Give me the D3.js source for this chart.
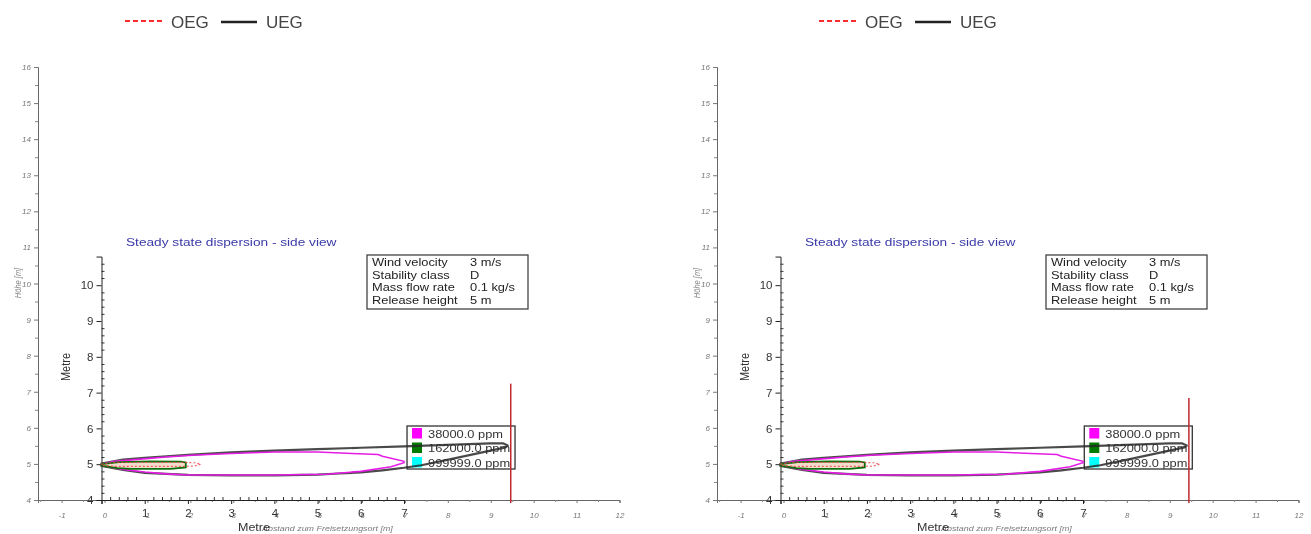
<!DOCTYPE html>
<html>
<head>
<meta charset="utf-8">
<script src="https://cdn.jsdelivr.net/npm/d3@7"></script>
<style>
  html, body { margin: 0; padding: 0; background: #ffffff; }
  svg { display: block; }
  text { font-family: "Liberation Sans", Arial, sans-serif; }
</style>
</head>
<body>
<script>
// ---------------- DATA ----------------
const outerXTicks = [-1, 0, 1, 2, 3, 4, 5, 6, 7, 8, 9, 10, 11, 12];
const outerYTicks = [4, 5, 6, 7, 8, 9, 10, 11, 12, 13, 14, 15, 16];
const innerXTicks = [0, 1, 2, 3, 4, 5, 6, 7];
const innerYTicks = [4, 5, 6, 7, 8, 9, 10];

const legendSeries = ["OEG", "UEG"];
const concentrationLabelsLeft  = ["38000.0 ppm", "162000.0 ppm", "999999.0 ppm"];
const concentrationLabelsRight = ["38000.0 ppm", "162000.0 ppm", "999999.0 ppm"];
const concentrationColors = ["#ff00ff", "#007a00", "#00ffff"];

const infoLabels = ["Wind velocity", "Stability class", "Mass flow rate", "Release height"];
const infoValues = ["3 m/s", "D", "0.1 kg/s", "5 m"];

const chartTitle = "Steady state dispersion - side view";

// UEG (black) contour, [distance m, height m]
const uegTop = [[0, 5.02], [0.5, 5.13], [1, 5.18], [2, 5.26], [3, 5.33], [4, 5.38], [5, 5.42],
                [6, 5.46], [7, 5.5], [8, 5.54], [9, 5.58], [9.3, 5.58], [9.4, 5.52]];
const uegBottom = [[9.35, 5.47], [9.0, 5.38], [8.0, 5.12], [7.4, 4.97], [7.0, 4.9], [6.5, 4.83],
                   [6.0, 4.77], [5.5, 4.74], [5, 4.71], [4, 4.69], [3, 4.69], [2, 4.7],
                   [1, 4.76], [0.5, 4.84], [0, 4.95]];
// 38000 ppm (magenta) contour
const c38000Top = [[0, 5.0], [0.3, 5.08], [0.7, 5.12], [1.5, 5.2], [2.1, 5.25], [3, 5.3], [4, 5.34],
                   [5, 5.34], [5.8, 5.3], [6.4, 5.27], [6.5, 5.22], [7.0, 5.08]];
const c38000Bottom = [[7.0, 5.04], [6.7, 4.93], [6.0, 4.8], [5.2, 4.72], [4, 4.7], [2, 4.7],
                      [1.5, 4.73], [1, 4.78], [0.5, 4.85], [0, 4.96]];
// 162000 ppm (green) contour
const c162000 = [[0, 5.0], [0.4, 5.06], [1.13, 5.08], [1.83, 5.07], [1.95, 5.05], [1.95, 4.91],
                 [1.6, 4.87], [0.67, 4.87], [0.37, 4.89], [0, 4.96]];
// OEG (red dashed) contour
const oegContour = [[0, 5.0], [0.3, 5.05], [1.9, 5.05], [2.15, 5.04], [2.3, 5.0], [2.15, 4.95],
                    [1.9, 4.94], [0.3, 4.94], [0, 4.97]];

// source marker (red vertical line) per panel: [x, top]
const markerX = [9.47, 9.45];
const markerTop = [7.25, 6.85];
// legend box left position (data x) per panel
const legendBoxX = [7.07, 7.03];

// ---------------- LAYOUT ----------------
const W = 1311, H = 534;
const SX = 1.19;              // horizontal stretch of the original picture
const panelDX = [0, 679];
const topLegendDX = [0, 694];
const fmtInt = d => String(d);   // plain hyphen-minus, as in the picture

const svg = d3.select("body").append("svg").attr("width", W).attr("height", H);
const defs = svg.append("defs");
defs.append("filter").attr("id", "soft").append("feGaussianBlur").attr("stdDeviation", 0.35);
const root = svg.append("g").attr("filter", "url(#soft)");

function stext(parent, x, y, s, o) {
  o = o || {};
  const g = parent.append("g").attr("transform", `translate(${x},${y}) ${o.rotate ? "rotate(-90) scale(1," + SX + ")" : "scale(" + SX + ",1)"}`);
  const t = g.append("text").text(s)
    .attr("font-size", o.size || 11)
    .attr("fill", o.fill || "#222")
    .attr("text-anchor", o.anchor || "start");
  if (o.italic) t.attr("font-style", "italic");
  if (o.weight) t.attr("font-weight", o.weight);
  return t;
}

panelDX.forEach((dx, pi) => {
  const g = root.append("g");

  // ---- top legend ----
  const lx = topLegendDX[pi];
  const lg = g.append("g");
  lg.append("line").attr("x1", 125 + lx).attr("x2", 162 + lx).attr("y1", 21).attr("y2", 21)
    .attr("stroke", "#ff2a2a").attr("stroke-width", 2).attr("stroke-dasharray", "5,3");
  lg.append("text").text(legendSeries[0]).attr("x", 171 + lx).attr("y", 28)
    .attr("font-size", 17).attr("fill", "#444");
  lg.append("line").attr("x1", 221 + lx).attr("x2", 257 + lx).attr("y1", 22).attr("y2", 22)
    .attr("stroke", "#222").attr("stroke-width", 2.5);
  lg.append("text").text(legendSeries[1]).attr("x", 266 + lx).attr("y", 28)
    .attr("font-size", 17).attr("fill", "#444");

  // ---- outer (background) axes ----
  const xo = d3.scaleLinear().domain([-1.55, 12]).range([104.5 - 1.55 * 42.9 + dx, 619.5 + dx]);
  const yo = d3.scaleLinear().domain([4, 16]).range([500, 67]);
  const ox0 = xo(-1.55);

  const oxAxis = g.append("g").attr("transform", "translate(0,500)")
    .call(d3.axisBottom(xo).tickValues(outerXTicks).tickSize(3).tickPadding(9).tickFormat(fmtInt));
  oxAxis.select(".domain").attr("stroke", "#666").attr("stroke-width", 1);
  oxAxis.selectAll(".tick line").attr("stroke", "#777");
  oxAxis.selectAll("text").attr("font-size", 8).attr("font-style", "italic").attr("fill", "#777")
    .attr("font-family", "Liberation Sans, Arial, sans-serif");
  g.append("g").attr("transform", "translate(0,500)")
    .call(d3.axisBottom(xo).tickValues(d3.range(-1.5, 12, 1)).tickSize(2).tickFormat(""))
    .call(s => s.select(".domain").remove())
    .selectAll("line").attr("stroke", "#888");

  const oyAxis = g.append("g").attr("transform", `translate(${ox0},0)`)
    .call(d3.axisLeft(yo).tickValues(outerYTicks).tickSize(4).tickPadding(3).tickFormat(fmtInt));
  oyAxis.select(".domain").attr("stroke", "#666");
  oyAxis.selectAll(".tick line").attr("stroke", "#777");
  oyAxis.selectAll("text").attr("font-size", 8).attr("font-style", "italic").attr("fill", "#777")
    .attr("font-family", "Liberation Sans, Arial, sans-serif");
  g.append("g").attr("transform", `translate(${ox0},0)`)
    .call(d3.axisLeft(yo).tickValues(d3.range(4.5, 16, 1)).tickSize(3).tickFormat(""))
    .call(s => s.select(".domain").remove())
    .selectAll("line").attr("stroke", "#888");

  stext(g, 21 + dx, 283, "Höhe [m]", { size: 7.5, italic: true, fill: "#888", anchor: "middle", rotate: true });
  stext(g, 262 + dx, 531, "Abstand zum Freisetzungsort [m]", { size: 7.5, italic: true, fill: "#7a7a7a" });

  // ---- inner chart ----
  const xi = d3.scaleLinear().domain([0, 7]).range([101.5 + dx, 404 + dx]);
  const yi = d3.scaleLinear().domain([4, 10.8]).range([500, 500 - 6.8 * 35.8]);

  const ixAxis = g.append("g").attr("transform", "translate(0,500)")
    .call(d3.axisBottom(xi).tickValues(innerXTicks).tickSize(4).tickPadding(5).tickFormat(d => d === 0 ? "" : fmtInt(d)));
  ixAxis.select(".domain").attr("stroke", "#222");
  ixAxis.selectAll(".tick line").attr("stroke", "#222");
  ixAxis.selectAll("text").attr("font-size", 11.5).attr("fill", "#333")
    .attr("font-family", "Liberation Sans, Arial, sans-serif");
  g.append("g").attr("transform", "translate(0,500)")
    .call(d3.axisTop(xi).tickValues(d3.range(0.2, 7, 0.2).filter(v => Math.abs(v - Math.round(v)) > 0.01)).tickSize(3).tickFormat(""))
    .call(s => s.select(".domain").remove())
    .selectAll("line").attr("stroke", "#333");

  const iyAxis = g.append("g").attr("transform", `translate(${xi(0)},0)`)
    .call(d3.axisLeft(yi).tickValues(innerYTicks).tickSize(5).tickPadding(3).tickFormat(fmtInt));
  iyAxis.select(".domain").attr("stroke", "#222");
  iyAxis.selectAll(".tick line").attr("stroke", "#222");
  iyAxis.selectAll("text").attr("font-size", 11.5).attr("fill", "#333")
    .attr("font-family", "Liberation Sans, Arial, sans-serif");
  g.append("g").attr("transform", `translate(${xi(0)},0)`)
    .call(d3.axisRight(yi).tickValues(d3.range(4.2, 10.8, 0.2).filter(v => Math.abs(v - Math.round(v)) > 0.01)).tickSize(3).tickFormat(""))
    .call(s => s.select(".domain").remove())
    .selectAll("line").attr("stroke", "#333");

  stext(g, 70 + dx, 367, "Metre", { size: 11, fill: "#333", anchor: "middle", rotate: true });
  stext(g, 238 + dx, 531, "Metre", { size: 10.5, fill: "#333" });

  // title
  stext(g, 126 + dx, 246, chartTitle, { size: 11.5, fill: "#3a3aa8" });

  // info box
  const ib = g.append("g");
  ib.append("rect").attr("x", 367 + dx).attr("y", 255).attr("width", 161).attr("height", 54)
    .attr("fill", "#fff").attr("stroke", "#444").attr("stroke-width", 1.3);
  infoLabels.forEach((s, i) => {
    stext(ib, 372 + dx, 266 + i * 12.7, s, { size: 10.8, fill: "#222" });
    stext(ib, 470 + dx, 266 + i * 12.7, infoValues[i], { size: 10.8, fill: "#222" });
  });

  // concentration legend box
  const lb = g.append("g");
  const bx = xi(legendBoxX[pi]);
  lb.append("rect").attr("x", bx).attr("y", 426).attr("width", 108).attr("height", 43)
    .attr("fill", "#fff").attr("stroke", "#333").attr("stroke-width", 1.3);
  const labels = pi === 0 ? concentrationLabelsLeft : concentrationLabelsRight;
  labels.forEach((s, i) => {
    lb.append("rect").attr("x", bx + 5).attr("y", 428 + i * 14.5).attr("width", 10).attr("height", 10.5)
      .attr("fill", concentrationColors[i]);
    stext(lb, bx + 21, 437.5 + i * 14.5, s, { size: 10.8, fill: "#333" });
  });

  // contours
  const closed = d3.line().x(d => xi(d[0])).y(d => yi(d[1])).curve(d3.curveLinearClosed);

  g.append("path").attr("d", closed(uegTop.concat(uegBottom)))
    .attr("fill", "none").attr("stroke", "#2a2a2a").attr("stroke-width", 2.2)
    .attr("stroke-opacity", 0.85).attr("stroke-linejoin", "round");
  g.append("path").attr("d", closed(c38000Top.concat(c38000Bottom)))
    .attr("fill", "none").attr("stroke", "#e61ee6").attr("stroke-width", 1.6);
  g.append("path").attr("d", closed(c162000))
    .attr("fill", "#f3dccd").attr("stroke", "#0a6e0a").attr("stroke-width", 1.8);
  g.append("path").attr("d", closed(oegContour))
    .attr("fill", "none").attr("stroke", "#f04040").attr("stroke-width", 1.2)
    .attr("stroke-dasharray", "2,2").attr("stroke-opacity", 0.8);

  // source marker line
  g.append("line").attr("x1", xi(markerX[pi])).attr("x2", xi(markerX[pi]))
    .attr("y1", yi(markerTop[pi])).attr("y2", 503)
    .attr("stroke", "#c0282d").attr("stroke-width", 1.5);
});
</script>
</body>
</html>
